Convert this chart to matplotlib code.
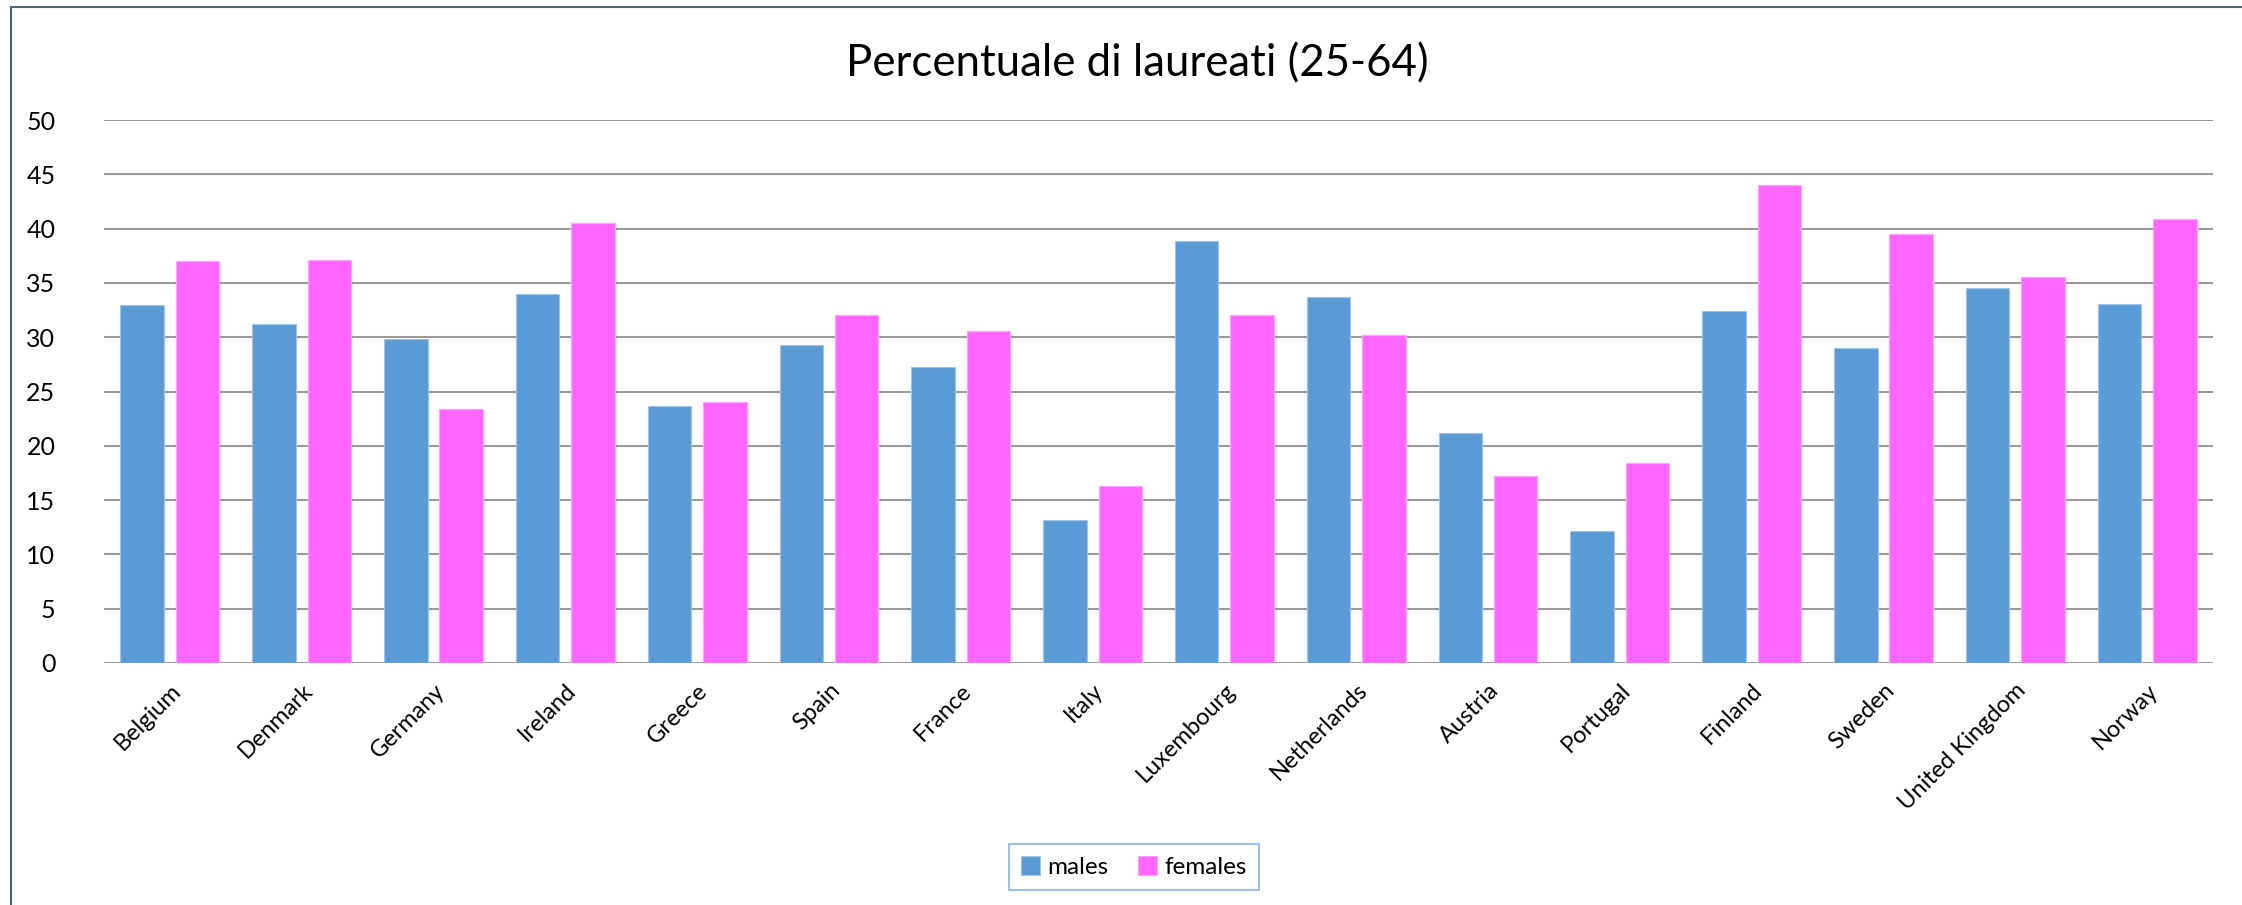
import matplotlib
matplotlib.use("Agg")
import matplotlib.pyplot as plt
from matplotlib.patches import Rectangle
import numpy as np

plt.rcParams['font.family'] = ['Lato', 'DejaVu Sans']

countries = ['Belgium', 'Denmark', 'Germany', 'Ireland', 'Greece', 'Spain',
             'France', 'Italy', 'Luxembourg', 'Netherlands', 'Austria',
             'Portugal', 'Finland', 'Sweden', 'United Kingdom', 'Norway']
males = [33.0, 31.2, 29.8, 34.0, 23.7, 29.3, 27.3, 13.2, 38.9, 33.7, 21.2,
         12.2, 32.4, 29.0, 34.5, 33.1]
females = [37.0, 37.1, 23.4, 40.5, 24.0, 32.0, 30.6, 16.3, 32.0, 30.2, 17.2,
           18.4, 44.0, 39.5, 35.5, 40.9]
y_ticks = [0, 5, 10, 15, 20, 25, 30, 35, 40, 45, 50]

W, H = 2242, 905
fig = plt.figure(figsize=(W / 100, H / 100), dpi=100)
ax = fig.add_axes([104 / W, 1 - 663 / H, (2213 - 104) / W, (663 - 120) / H])

x = np.arange(len(countries))
bw = 0.33
ax.bar(x - 0.21, males, bw, color='#5B9BD5', edgecolor='#9fc3e9',
       linewidth=0.8, label='males', zorder=3)
ax.bar(x + 0.21, females, bw, color='#FF66FF', edgecolor='#ffa3ff',
       linewidth=0.8, label='females', zorder=3)

ax.set_xlim(-0.5, len(countries) - 0.5)
ax.set_ylim(0, 50)
ax.set_yticks(y_ticks)
ax.yaxis.grid(True, color='#9a9a9a', linewidth=1.5, zorder=0)
ax.set_axisbelow(True)
for s in ['top', 'right', 'left', 'bottom']:
    ax.spines[s].set_visible(False)
ax.tick_params(axis='both', length=0, labelsize=17)
ax.tick_params(axis='y', pad=35, labelsize=18)
ax.set_xticks(x)
ax.set_xticklabels(countries, rotation=45, ha='right', rotation_mode='anchor')
ax.tick_params(axis='x', pad=12)

fig.text(1137 / W, 1 - 64 / H, 'Percentuale di laureati (25-64)',
         ha='center', va='center', fontsize=31.5)

leg = fig.legend(loc='center', bbox_to_anchor=(1134 / W, 1 - 867 / H),
                 ncol=2, fontsize=17.5, frameon=True, fancybox=False,
                 handlelength=0.8, handleheight=0.8, columnspacing=1.2,
                 handletextpad=0.3, borderpad=0.5)
leg.get_frame().set_edgecolor('#7fb0e0')
leg.get_frame().set_linewidth(1.5)

# cornice del grafico (solo sinistra e in alto visibili)
fig.patches.append(Rectangle((11 / W, -0.2), 1.5, 1.2 - 7 / H,
                             transform=fig.transFigure, fill=False,
                             edgecolor='#4f6580', linewidth=1.5))

fig.savefig('out.png', dpi=100)
